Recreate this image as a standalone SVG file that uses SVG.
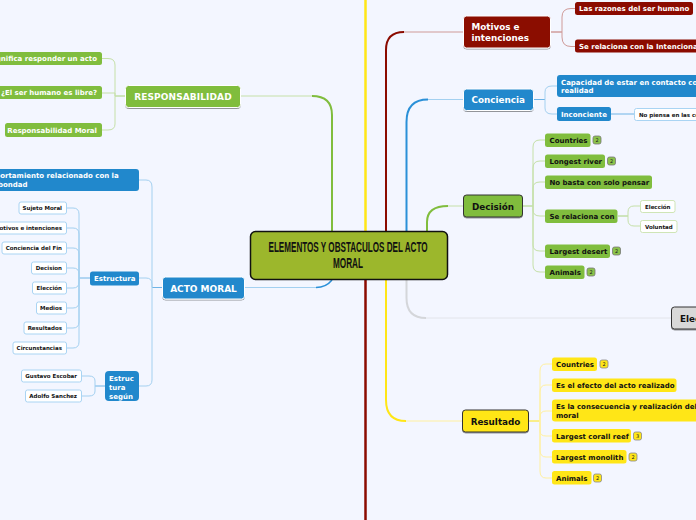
<svg xmlns="http://www.w3.org/2000/svg" width="696" height="520" viewBox="0 0 696 520">
<defs>
<filter id="sh" x="-10%" y="-20%" width="120%" height="150%"><feDropShadow dx="0" dy="1" stdDeviation="0.7" flood-color="#000" flood-opacity="0.4"/></filter>
</defs>
<style>
text{font-family:"DejaVu Sans",Verdana,sans-serif;font-weight:700}
.c{fill:none;stroke-linecap:butt}
.gT{stroke:#80bd3e}.gL{stroke:#c5e0a8}.gM{stroke:#a8d27a}
.bT{stroke:#2a90d8}.bL{stroke:#a3d0f0}.bM{stroke:#6fb4e6}
.rT{stroke:#8b0b00}.rL{stroke:#cf9a98}.rM{stroke:#c0706a}
.yT{stroke:#ffe617}.yL{stroke:#fff0a0}
.t8{font-size:7px}.t6{font-size:5.500px}.big{font-size:8.800px}
.tw{fill:#fff}.tk{fill:#111}
.g{fill:#80bd3e}.b{fill:#2188cc}.r{fill:#8b0b00}.y{fill:#ffe617}
.lb{fill:#fff;stroke:#a9d4f3;stroke-width:1}
.lg{fill:#fff;stroke:#cfe5b6;stroke-width:1}
.n{fill:#8bc34a;stroke:#777;stroke-width:.8}
.ny{fill:#ffe617;stroke:#888;stroke-width:.8}
.nt{font-size:5px;font-weight:400;fill:#222;text-anchor:middle}
.title{font-family:"Liberation Sans",sans-serif;font-size:14px;fill:#111;text-anchor:middle}
</style>
<rect width="696" height="520" fill="#f3f6ff"/>
<g id="connectors">
<path class="c yT" stroke-width="2.500" d="M365.500 0V232"/>
<path class="c rT" stroke-width="2.500" d="M365.500 280V520"/>
<path class="c rT" stroke-width="2" d="M386 232V50Q386 32 404 32"/>
<path class="c rL" d="M404 32H463"/>
<path class="c rM" d="M551 32H562"/>
<path class="c rL" d="M562 32V17Q562 8.500 571 8.500H575M562 32V37Q562 46.500 571 46.500H575"/>
<path class="c bT" stroke-width="2" d="M406.500 232V122Q406.500 99.500 428 99.500"/>
<path class="c bL" d="M428 99.500H463"/>
<path class="c bM" d="M534 99.500H545"/>
<path class="c bL" d="M545 99.500V92Q545 86 552 86H557M545 99.500V108Q545 114 552 114H557"/>
<path class="c bM" d="M611 114H634"/>
<path class="c gT" stroke-width="2" d="M427 232V222Q427 206 448 206"/>
<path class="c gL" d="M448 206H463"/>
<path class="c gM" d="M523 206H533"/>
<path class="c gL" d="M533 206V147Q533 140 540 140H545M533 206V168Q533 161 540 161H545M533 206V188Q533 182 540 182H545M533 206V210Q533 216 540 216H545M533 206V245Q533 251 540 251H545M533 206V265Q533 272 540 272H545"/>
<path class="c gM" d="M618 216H628"/>
<path class="c gL" d="M628 216V212Q628 206 634 206H640M628 216V220Q628 226 634 226H640"/>
<path class="c" stroke="#d4d6da" stroke-width="2" d="M406.500 280V298Q406.500 318 426 318"/>
<path class="c" stroke="#e2e4ea" d="M426 318H671"/>
<path class="c yT" stroke-width="2" d="M386 280V400Q386 421 406 421"/>
<path class="c yL" d="M406 421H462"/>
<path class="c yT" d="M529 421H540"/>
<path class="c yL" d="M540 421V371Q540 364 546 364H552M540 421V392Q540 385 546 385H552M540 421V417Q540 411 546 411H552M540 421V431Q540 436 546 436H552M540 421V450Q540 457 546 457H552M540 421V471Q540 478 546 478H552"/>
<path class="c gT" stroke-width="2" d="M332 232V115Q332 96 312 96"/>
<path class="c gL" d="M312 96H241"/>
<path class="c gM" d="M125 96H115"/>
<path class="c gL" d="M115 96V65Q115 58.500 108 58.500H102M115 96V93H102M115 96V124Q115 130 108 130H102"/>
<path class="c bT" stroke-width="1.500" d="M332 280Q326 287.500 316 287.500"/>
<path class="c bL" d="M316 287.500H245"/>
<path class="c bM" d="M162 287.500H152"/>
<path class="c bL" d="M152 287.500V187Q152 180 146 180H139M152 287.500V284Q152 278 146 278H139M152 287.500V380Q152 386 146 386H139"/>
<path class="c bM" d="M90 278H79"/>
<path class="c bL" d="M79 278V214Q79 208 73 208H67M79 278V234Q79 228 73 228H67M79 278V254Q79 248 73 248H67M79 278V274Q79 268 73 268H67M79 278V282Q79 288 73 288H67M79 278V302Q79 308 73 308H67M79 278V322Q79 328 73 328H67M79 278V342Q79 348 73 348H67"/>
<path class="c bM" d="M105 386H95"/>
<path class="c bL" d="M95 386V381Q95 376 89 376H82M95 386V391Q95 396 89 396H82"/>
</g>
<g id="center">
<rect x="250.500" y="231.500" width="197" height="48" rx="5" fill="#9cb72c" stroke="#111" stroke-width="1.500"/>
<text x="348" y="252" class="title" textLength="159" lengthAdjust="spacingAndGlyphs">ELEMENTOS Y OBSTACULOS DEL ACTO</text>
<text x="348" y="268" class="title" textLength="30" lengthAdjust="spacingAndGlyphs">MORAL</text>
</g>
<g id="responsabilidad">
<rect x="125.500" y="85.500" width="115" height="22" rx="3" class="g" stroke="#fff" filter="url(#sh)"/>
<text x="183" y="99.500" font-size="9" letter-spacing=".1" text-anchor="middle" class="tw">RESPONSABILIDAD</text>
</g>
<g id="r1"><rect x="-20" y="52" width="122" height="13" rx="2.500" class="g"/><text x="97" y="61" text-anchor="end" class="t8 tw">Significa responder un acto</text></g>
<g id="r2"><rect x="-5" y="86" width="107" height="13" rx="2.500" class="g"/><text x="97" y="95" text-anchor="end" class="t8 tw">¿El ser humano es libre?</text></g>
<g id="r3"><rect x="5" y="123" width="97" height="14" rx="2.500" class="g"/><text x="97" y="133" text-anchor="end" class="t8 tw">Responsabilidad Moral</text></g>
<g id="acto-moral">
<rect x="162.500" y="277" width="82" height="22" rx="3" class="b" stroke="#fff" filter="url(#sh)"/>
<text x="203.500" y="291.500" font-size="9" text-anchor="middle" class="tw">ACTO MORAL</text>
</g>
<g id="a1"><rect x="-40" y="169" width="179" height="22" rx="3" class="b"/><text x="-22" y="178" class="t8 tw">Comportamiento relacionado con la</text><text x="-2" y="187" class="t8 tw">bondad</text></g>
<g id="estructura"><rect x="90" y="271.500" width="49" height="14" rx="2.500" class="b"/><text x="94" y="281" class="t8 tw">Estructura</text></g>
<g id="s1"><rect x="19" y="202" width="47.500" height="12" rx="2" class="lb"/><text x="62" y="210" text-anchor="end" class="t6 tk">Sujeto Moral</text></g>
<g id="s2"><rect x="-20" y="222" width="86.500" height="12" rx="2" class="lb"/><text x="62" y="230" text-anchor="end" class="t6 tk">Motivos e intenciones</text></g>
<g id="s3"><rect x="2" y="242" width="64.500" height="12" rx="2" class="lb"/><text x="62" y="250" text-anchor="end" class="t6 tk">Conciencia del Fin</text></g>
<g id="s4"><rect x="31.500" y="262" width="35" height="12" rx="2" class="lb"/><text x="62" y="270" text-anchor="end" class="t6 tk">Decision</text></g>
<g id="s5"><rect x="32.500" y="282" width="34" height="12" rx="2" class="lb"/><text x="62" y="290" text-anchor="end" class="t6 tk">Elección</text></g>
<g id="s6"><rect x="36.500" y="302" width="30" height="12" rx="2" class="lb"/><text x="62" y="310" text-anchor="end" class="t6 tk">Medios</text></g>
<g id="s7"><rect x="24" y="322" width="42.500" height="12" rx="2" class="lb"/><text x="62" y="330" text-anchor="end" class="t6 tk">Resultados</text></g>
<g id="s8"><rect x="13" y="342" width="53.500" height="12" rx="2" class="lb"/><text x="62" y="350" text-anchor="end" class="t6 tk">Circunstancias</text></g>
<g id="estructura-segun"><rect x="105" y="371" width="34" height="30" rx="4" class="b"/><text x="109" y="380.500" class="t8 tw">Estruc</text><text x="109" y="389.500" class="t8 tw">tura</text><text x="109" y="398.500" class="t8 tw">según</text></g>
<g id="e1"><rect x="21.500" y="370" width="60" height="12" rx="2" class="lb"/><text x="77" y="378" text-anchor="end" class="t6 tk">Gustavo Escobar</text></g>
<g id="e2"><rect x="25.500" y="390" width="56" height="12" rx="2" class="lb"/><text x="77" y="398" text-anchor="end" class="t6 tk">Adolfo Sanchez</text></g>
<g id="motivos"><rect x="463.500" y="16" width="87" height="32" rx="3" class="r" stroke="#fff" filter="url(#sh)"/><text x="471.500" y="30" class="big tw">Motivos e</text><text x="471.500" y="41" class="big tw">intenciones</text></g>
<g id="m1"><rect x="575" y="2" width="118" height="13" rx="2.500" class="r"/><text x="579" y="11" class="t8 tw">Las razones del ser humano</text></g>
<g id="m2"><rect x="575" y="39.500" width="140" height="13" rx="2.500" class="r"/><text x="579" y="49" class="t8 tw">Se relaciona con la Intencionalidad</text></g>
<g id="conciencia"><rect x="463.500" y="89" width="70" height="21.500" rx="3" class="b" stroke="#fff" filter="url(#sh)"/><text x="471.500" y="103" class="big tw">Conciencia</text></g>
<g id="c1"><rect x="557" y="75" width="160" height="22" rx="3" class="b"/><text x="561" y="85" class="t8 tw">Capacidad de estar en contacto con la</text><text x="561" y="93" class="t8 tw">realidad</text></g>
<g id="c2"><rect x="557" y="107" width="54" height="14" rx="2.500" class="b"/><text x="561" y="117" class="t8 tw">Inconciente</text></g>
<g id="c3"><rect x="634.500" y="108.500" width="90" height="12" rx="2" class="lb"/><text x="639" y="117" class="t6 tk">No piensa en las consecuencias</text></g>
<g id="decision"><rect x="463.500" y="195" width="59" height="22" rx="3" class="g" stroke="#333" filter="url(#sh)"/><text x="493" y="210" class="big tk" text-anchor="middle">Decisión</text></g>
<g id="d1"><rect x="545" y="133.500" width="45.500" height="13.500" rx="2.500" class="g"/><text x="549.500" y="143" class="t8 tk">Countries</text><rect x="593" y="136" width="8" height="8" rx="2" class="n"/><text x="597" y="142" class="nt">2</text></g>
<g id="d2"><rect x="545" y="154.500" width="60" height="13.500" rx="2.500" class="g"/><text x="549.500" y="164" class="t8 tk">Longest river</text><rect x="607.500" y="157" width="8" height="8" rx="2" class="n"/><text x="611.500" y="163" class="nt">2</text></g>
<g id="d3"><rect x="545" y="175.500" width="107" height="13.500" rx="2.500" class="g"/><text x="549.500" y="185" class="t8 tk">No basta con solo pensar</text></g>
<g id="d4"><rect x="545" y="209.500" width="72.500" height="13.500" rx="2.500" class="g"/><text x="549.500" y="219" class="t8 tk">Se relaciona con</text></g>
<g id="d5"><rect x="640.500" y="200.500" width="34.500" height="12" rx="2" class="lg"/><text x="645" y="209" class="t6 tk">Elección</text></g>
<g id="d6"><rect x="640.500" y="220.500" width="36.500" height="12" rx="2" class="lg"/><text x="645" y="229" class="t6 tk">Voluntad</text></g>
<g id="d7"><rect x="545" y="244.500" width="65" height="13.500" rx="2.500" class="g"/><text x="549.500" y="254" class="t8 tk">Largest desert</text><rect x="612.500" y="247" width="8" height="8" rx="2" class="n"/><text x="616.500" y="253" class="nt">2</text></g>
<g id="d8"><rect x="545" y="265.500" width="39.500" height="13.500" rx="2.500" class="g"/><text x="549.500" y="275" class="t8 tk">Animals</text><rect x="587" y="268" width="8" height="8" rx="2" class="n"/><text x="591" y="274" class="nt">2</text></g>
<g id="eleccion"><rect x="671.500" y="307" width="60" height="22" rx="3" fill="#d8d8d8" stroke="#333" filter="url(#sh)"/><text x="680" y="322" class="big tk">Elección</text></g>
<g id="resultado"><rect x="462.500" y="410" width="66" height="22" rx="3" class="y" stroke="#333" filter="url(#sh)"/><text x="495.500" y="425" class="big tk" text-anchor="middle">Resultado</text></g>
<g id="y1"><rect x="552" y="357.500" width="45" height="13.500" rx="2.500" class="y"/><text x="556" y="367" class="t8 tk">Countries</text><rect x="600" y="360" width="8" height="8" rx="2" class="ny"/><text x="604" y="366" class="nt">2</text></g>
<g id="y2"><rect x="552" y="378.500" width="124.500" height="13.500" rx="2.500" class="y"/><text x="556" y="388" class="t8 tk">Es el efecto del acto realizado</text></g>
<g id="y3"><rect x="552" y="399.500" width="160" height="22" rx="3" class="y"/><text x="556" y="409" class="t8 tk">Es la consecuencia y realización del acto</text><text x="556" y="418" class="t8 tk">moral</text></g>
<g id="y4"><rect x="552" y="429" width="79" height="13.500" rx="2.500" class="y"/><text x="556" y="439" class="t8 tk">Largest corall reef</text><rect x="633.500" y="432" width="8" height="8" rx="2" class="ny"/><text x="637.500" y="438" class="nt">3</text></g>
<g id="y5"><rect x="552" y="450" width="74.500" height="13.500" rx="2.500" class="y"/><text x="556" y="460" class="t8 tk">Largest monolith</text><rect x="629" y="453" width="8" height="8" rx="2" class="ny"/><text x="633" y="459" class="nt">2</text></g>
<g id="y6"><rect x="552" y="471" width="39.500" height="13.500" rx="2.500" class="y"/><text x="556" y="481" class="t8 tk">Animals</text><rect x="593.500" y="474" width="8" height="8" rx="2" class="ny"/><text x="597.500" y="480" class="nt">2</text></g>
</svg>
